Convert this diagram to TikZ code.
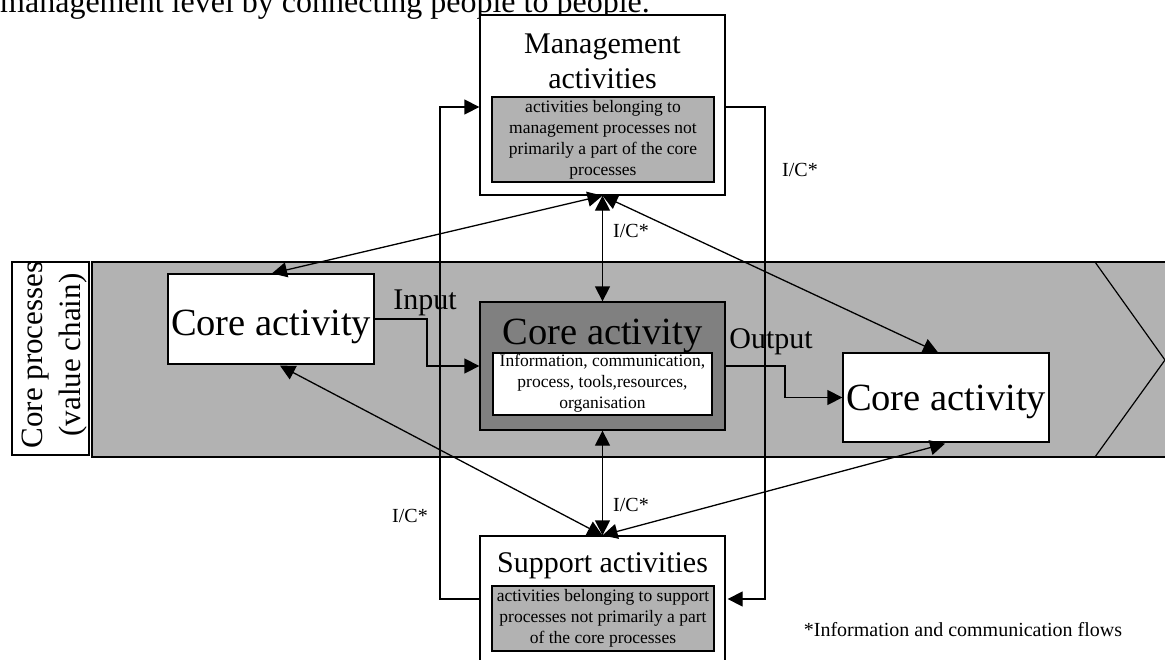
\documentclass[tikz,border=0pt]{standalone}
\usepackage{fontspec}
\setmainfont{Liberation Serif}
\usetikzlibrary{arrows.meta,calc}
\definecolor{bandgray}{gray}{0.70}
\definecolor{coregray}{gray}{0.50}
\newcommand{\fsz}[2]{\fontsize{#1}{#2}\selectfont}
\begin{document}
\begin{tikzpicture}[x=1pt,y=-1pt,
  box/.style={draw=black, line width=1.3pt, fill=white, inner sep=0pt},
  graybox/.style={draw=black, line width=2pt, fill=bandgray, inner sep=0pt, align=center, font=\fsz{17.5}{21}},
  conn/.style={line width=1.3pt},
  arr/.style={conn, -{Triangle[length=15pt,width=15pt]}},
  darr/.style={conn, {Triangle[length=15pt,width=15pt]}-{Triangle[length=15pt,width=15pt]}},
  lbl/.style={font=\fsz{20}{24}, inner sep=0pt},
  big/.style={font=\fsz{38.5}{44}},
  mid/.style={font=\fsz{30}{35}}]
\useasboundingbox (0,0) rectangle (1165,659);

% top text (cropped)
\node[anchor=base west, font=\fsz{32}{36}, inner sep=0pt] (toptext) at (0,12) {management level by connecting people to people.};

% value chain band
\draw[fill=bandgray, line width=1.6pt] (92,262) rectangle (1180,457);
\draw[line width=1.2pt] (1095,262) -- (1165,360) -- (1095,457);

% core processes label
\node[box, minimum width=77pt, minimum height=193pt] (cpbox) at (50.5,358.5) {};
\node[rotate=90, font=\fsz{31}{38}, align=center, inner sep=0pt] (cplabel) at (55,355) {Core processes\\(value chain)};

% management
\node[box, minimum width=245pt, minimum height=180pt] (mgmt) at (602.5,105) {};
\node[mid, align=center, anchor=base, inner sep=0pt] (mgmttitle) at (602.5,88) {Management\\activities};
\node[graybox, minimum width=222pt, minimum height=85pt] (mgmtin) at (603,139.5) {activities belonging to\\management processes not\\primarily a part of the core\\processes};

% core activities
\node[box, big, minimum width=206pt, text height=61pt, text depth=29pt] (lcore) at (271,319) {Core activity};
\node[box, fill=coregray, minimum width=245pt, minimum height=128pt] (core) at (602.5,366) {};
\node[big, anchor=base, inner sep=0pt] (coretitle) at (602.5,344) {Core activity};
\node[box, minimum width=219pt, minimum height=62pt, font=\fsz{17.5}{21}, align=center, text depth=6pt] (corein) at (602.5,384) {Information, communication,\\process, tools,resources,\\organisation};
\node[box, big, minimum width=206pt, text height=57pt, text depth=32pt] (rcore) at (946,397.5) {Core activity};

% support
\node[box, minimum width=245pt, minimum height=134pt] (supp) at (602.5,603) {};
\node[mid, anchor=base, inner sep=0pt] (supptitle) at (602.5,572) {Support activities};
\node[graybox, minimum width=222pt, minimum height=65pt] (suppin) at (603,618.5) {activities belonging to support\\processes not primarily a part\\of the core processes};

% input / output
\draw[arr] (lcore.east) -| (427,366) -- (core.west);
\node[mid, inner sep=0pt] (inputlbl) at (425,303) {Input};
\draw[arr] (core.east) -| (785,397.5) -- (rcore.west);
\node[mid, inner sep=0pt] (outputlbl) at (771,342) {Output};

% vertical I/C flows
\draw[darr] (mgmt.south) -- (core.north);
\draw[darr] (core.south) -- (supp.north);

% diagonals
\draw[darr] (mgmt.south) -- ($(lcore.north)+(1,0)$);
\draw[darr] (mgmt.south) -- ($(rcore.north)+(-8,0)$);
\draw[darr] (supp.north) -- ($(lcore.south)+(9,1)$);
\draw[darr] (supp.north) -- ($(rcore.south)+(-1,1)$);

% loops
\draw[arr] (supp.west |- 0,599) -| (440,107) -- (mgmt.west |- 0,107);
\draw[arr] (mgmt.east |- 0,107) -| (765,599) -- ($(supp.east |- 0,599)+(2,0)$);

% labels
\node[lbl] (ic1) at (800,170) {I/C*};
\node[lbl] (ic2) at (631,231) {I/C*};
\node[lbl] (ic3) at (631,505) {I/C*};
\node[lbl] (ic4) at (410,516) {I/C*};
\node[lbl] (foot) at (963,630) {*Information and communication flows};
\end{tikzpicture}
\end{document}
